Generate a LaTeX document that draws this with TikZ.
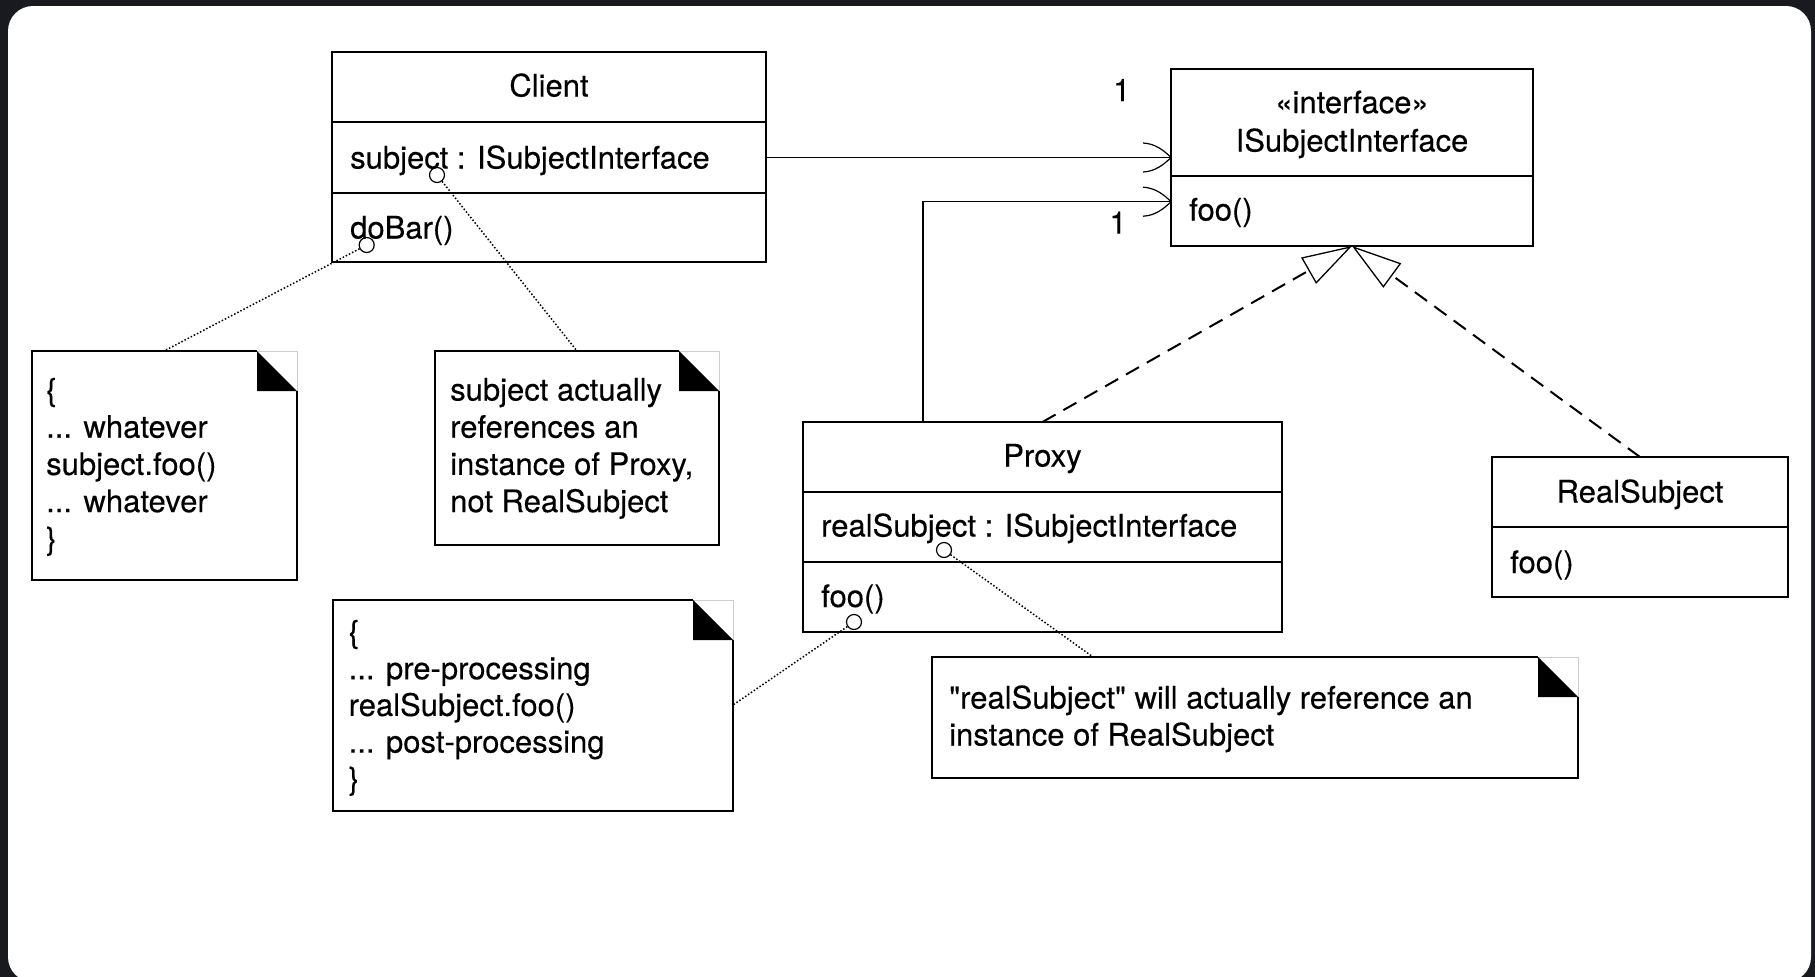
\documentclass[tikz,border=0pt]{standalone}
\usepackage{fontspec}
\setmainfont[FakeBold=0.3, Ligatures=TeXOff]{TeX Gyre Heros}
\usetikzlibrary{arrows.meta,decorations.markings,calc}

\definecolor{backdrop}{RGB}{24,26,31}
\definecolor{foldedge}{RGB}{205,205,205}
\newcommand{\umlfont}{\fontsize{31pt}{37pt}\selectfont}

\begin{document}
\begin{tikzpicture}[x=1pt,y=-1pt,
  compartment/.style 2 args={draw=black, line width=1.3pt, rectangle, anchor=north west,
    inner sep=0pt, outer sep=0pt, minimum width=#1, minimum height=#2},
  notearea/.style 2 args={rectangle, anchor=north west, inner sep=0pt, outer sep=0pt,
    minimum width=#1, minimum height=#2},
  noteline/.style={draw=black, line width=1.3pt, line join=miter},
  title/.style={anchor=base, inner sep=0pt, font=\umlfont},
  member/.style={anchor=base west, inner sep=0pt, font=\umlfont},
  pinhole/.style={circle, draw=black, line width=1.2pt, minimum size=15pt, inner sep=0pt},
  dotlink/.style={line width=1.5pt, dash pattern=on 1.5pt off 2pt},
  realize/.style={line width=2pt, dash pattern=on 15pt off 9pt,
    -{Triangle[open, length=50pt, width=30pt, line width=1.3pt]}},
  assoc/.style={line width=1.3pt, postaction={decorate, decoration={markings,
    mark=at position 1 with {\draw[line width=1.2pt, solid]
      (-28pt,14.5pt) .. controls (-16pt,14pt) and (-7pt,7pt) .. (0pt,0pt)
      .. controls (-7pt,-7pt) and (-16pt,-14pt) .. (-28pt,-14.5pt);}}}},
]
\useasboundingbox (0,0) rectangle (1815,977);
\clip (0,0) rectangle (1815,977);

% backdrop and sheet
\fill[backdrop] (0,0) rectangle (1815,977);
\fill[white, rounded corners=25pt] (8,6) rectangle (1811,982);

% ---- Client
\node[compartment={434pt}{70pt}] (clientName) at (332,52) {};
\node[compartment={434pt}{71pt}] (clientAttr) at (332,122) {};
\node[compartment={434pt}{69pt}] (clientOps)  at (332,193) {};
\node[title]  (tClient)  at (549,96.5) {Client};
\node[member] (tSubject) at (350,168.5) {subject : ISubjectInterface};
\node[member] (tDoBar)   at (350,238.5) {doBar()};

% ---- ISubjectInterface
\node[compartment={362pt}{107pt}] (ifaceName) at (1171,69) {};
\node[compartment={362pt}{70pt}]  (ifaceOps)  at (1171,176) {};
\node[title]  (tStereo)   at (1352,113.2) {«interface»};
\node[title]  (tIface)    at (1352,151.5) {ISubjectInterface};
\node[member] (tIfaceFoo) at (1189,220.5) {foo()};

% ---- Proxy
\node[compartment={479pt}{70pt}] (proxyName) at (803,422) {};
\node[compartment={479pt}{70pt}] (proxyAttr) at (803,492) {};
\node[compartment={479pt}{70pt}] (proxyOps)  at (803,562) {};
\node[title]  (tProxy)     at (1042.5,466.5) {Proxy};
\node[member] (tRealAttr)  at (821,536.5) {realSubject : ISubjectInterface};
\node[member] (tProxyFoo)  at (821,607) {foo()};

% ---- RealSubject
\node[compartment={296pt}{70pt}] (realName) at (1492,457) {};
\node[compartment={296pt}{70pt}] (realOps)  at (1492,527) {};
\node[title]  (tReal)    at (1640,502.5) {RealSubject};
\node[member] (tRealFoo) at (1510,573) {foo()};

% ---- notes
\node[notearea={265pt}{229pt}] (noteA) at (32,351) {};
\node[notearea={284pt}{194pt}] (noteB) at (435,351) {};
\node[notearea={400pt}{211pt}] (noteC) at (333,600) {};
\node[notearea={646pt}{121pt}] (noteD) at (932,657) {};

\foreach \n in {noteA,noteB,noteC,noteD} {
  \draw[foldedge, line width=1pt] ([xshift=-40pt]\n.north east) -- (\n.north east)
        -- ([yshift=-40pt]\n.north east);
  \draw[noteline] ([xshift=-40pt]\n.north east) -- (\n.north west) -- (\n.south west)
        -- (\n.south east) -- ([yshift=-40pt]\n.north east);
  \fill[black] ([xshift=-40pt]\n.north east) -- ([xshift=-40pt,yshift=-40pt]\n.north east)
        -- ([yshift=-40pt]\n.north east) -- cycle;
}

\node[member] (a1) at (46,400.5) {\{};
\node[member] (a2) at (46,437.7) {... whatever};
\node[member] (a3) at (46,474.9) {subject.foo()};
\node[member] (a4) at (46,512.1) {... whatever};
\node[member] (a5) at (46,549.3) {\}};

\node[member] (b1) at (450,400.5) {subject actually};
\node[member] (b2) at (450,437.7) {references an};
\node[member] (b3) at (450,474.9) {instance of Proxy,};
\node[member] (b4) at (450,512.1) {not RealSubject};

\node[member] (c1) at (348.5,642.5) {\{};
\node[member] (c2) at (348.5,679.2) {... pre-processing};
\node[member] (c3) at (348.5,715.9) {realSubject.foo()};
\node[member] (c4) at (348.5,752.6) {... post-processing};
\node[member] (c5) at (348.5,789.3) {\}};

\node[member] (d1) at (949,708.5) {"realSubject" will actually reference an};
\node[member] (d2) at (949,745.5) {instance of RealSubject};

% ---- anchor circles on members
\node[pinhole] (pinSubject) at (437,175) {};
\node[pinhole] (pinDoBar)   at (366.7,245) {};
\node[pinhole] (pinReal)    at (944,550) {};
\node[pinhole] (pinFoo)     at (854,622) {};

% ---- note links
\draw[dotlink] (pinSubject) -- ([xshift=142pt]noteB.north west);
\draw[dotlink] (pinDoBar)   -- ([xshift=132pt]noteA.north west);
\draw[dotlink] (pinReal)    -- ([xshift=161pt]noteD.north west);
\draw[dotlink] (pinFoo)     -- ([yshift=-105pt]noteC.north east);

% ---- associations
\draw[assoc] (clientAttr.east) -- (clientAttr.east -| ifaceName.west);
\draw[assoc] (proxyName.north -| 923,0) |- ([yshift=9.3pt]ifaceOps.west);
\node[title] (multA) at (1121.7,101)   {1};
\node[title] (multB) at (1118,233.7)   {1};

% ---- realizations
\draw[realize] (proxyName.north) -- (ifaceOps.south);
\draw[realize] (realName.north)  -- (ifaceOps.south);
\end{tikzpicture}
\end{document}
